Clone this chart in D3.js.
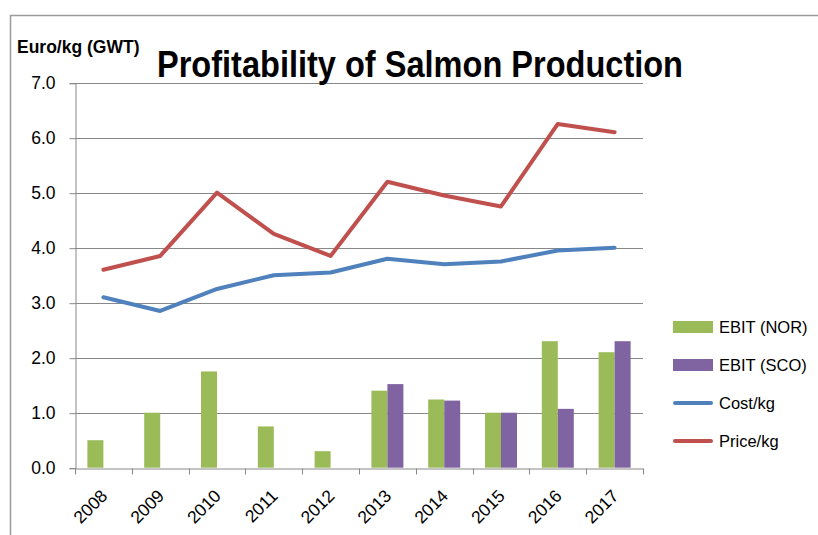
<!DOCTYPE html>
<html>
<head>
<meta charset="utf-8">
<script src="https://cdn.jsdelivr.net/npm/d3@7"></script>
<style>
  body { margin: 0; background: #fff; }
  text { font-family: "Liberation Sans", Arial, sans-serif; fill: #000; }
</style>
</head>
<body>
<svg id="chart" width="818" height="535"></svg>
<script>
// chart data
var years = ["2008", "2009", "2010", "2011", "2012", "2013", "2014", "2015", "2016", "2017"];
var ebitNor = [0.5, 1.0, 1.75, 0.75, 0.3, 1.4, 1.24, 1.0, 2.3, 2.1];
var ebitSco = [null, null, null, null, null, 1.52, 1.22, 1.0, 1.07, 2.3];
var cost = [3.1, 2.85, 3.25, 3.5, 3.55, 3.8, 3.7, 3.75, 3.95, 4.0];
var price = [3.6, 3.85, 5.0, 4.25, 3.85, 5.2, 4.95, 4.75, 6.25, 6.1];
var yTicks = [0, 1, 2, 3, 4, 5, 6, 7];
var seriesNames = ["EBIT (NOR)", "EBIT (SCO)", "Cost/kg", "Price/kg"];
var colors = ["#9bbb59", "#8064a2", "#4f81bd", "#c0504d"];

var svg = d3.select('#chart');
var plotLeft = 75, plotRight = 643, plotTop = 82.7, plotBottom = 467.7;

var x = d3.scaleBand().domain(years).range([plotLeft, plotRight]);
var inner = d3.scaleBand().domain(["nor", "sco"]).range([0, x.bandwidth()])
    .paddingInner(0).paddingOuter(0.775);
var y = d3.scaleLinear().domain([0, 7]).range([plotBottom, plotTop]);

// outer frame (top + left edge)
svg.append('path')
    .attr('d', 'M10.5,535 L10.5,15.5 L818,15.5')
    .attr('fill', 'none')
    .attr('stroke', '#9a9a9a')
    .attr('stroke-width', 1.5);

// gridlines
svg.append('g').selectAll('line')
    .data(yTicks.filter(function(d){ return d > 0; }))
    .join('line')
    .attr('x1', plotLeft).attr('x2', plotRight)
    .attr('y1', function(d){ return Math.round(y(d)) + 0.5; })
    .attr('y2', function(d){ return Math.round(y(d)) + 0.5; })
    .attr('stroke', '#888')
    .attr('stroke-width', 1);

// y axis
var yAxis = d3.axisLeft(y).tickValues(yTicks).tickFormat(d3.format('.1f')).tickSize(6).tickPadding(14);
var gy = svg.append('g').attr('transform', 'translate(' + (plotLeft + 0.5) + ',0.5)').call(yAxis);
gy.select('.domain').attr('stroke', '#888');
gy.selectAll('.tick line').attr('stroke', '#888');
gy.selectAll('.tick text').attr('font-size', 17.5).attr('font-family', 'Liberation Sans').attr('fill', '#000');

// bars
svg.append('g').selectAll('rect')
    .data(years.map(function(d, i){ return {year: d, v: ebitNor[i]}; }))
    .join('rect')
    .attr('x', function(d){ return x(d.year) + inner('nor'); })
    .attr('width', inner.bandwidth())
    .attr('y', function(d){ return y(d.v); })
    .attr('height', function(d){ return y(0) - y(d.v); })
    .attr('fill', colors[0]);

svg.append('g').selectAll('rect')
    .data(years.map(function(d, i){ return {year: d, v: ebitSco[i]}; }).filter(function(d){ return d.v != null; }))
    .join('rect')
    .attr('x', function(d){ return x(d.year) + inner('sco'); })
    .attr('width', inner.bandwidth())
    .attr('y', function(d){ return y(d.v); })
    .attr('height', function(d){ return y(0) - y(d.v); })
    .attr('fill', colors[1]);

// x axis
var xAxis = d3.axisBottom(x).tickSize(0).tickFormat('');
var gx = svg.append('g').attr('transform', 'translate(0,' + (Math.round(plotBottom) + 0.5) + ')').call(xAxis);
gx.select('.domain').attr('stroke', '#888');
gx.selectAll('.edge')
    .data(years.concat(['end']))
    .join('line')
    .attr('class', 'edge')
    .attr('x1', function(d){ return Math.round(d === 'end' ? plotRight : x(d)) + 0.5; })
    .attr('x2', function(d){ return Math.round(d === 'end' ? plotRight : x(d)) + 0.5; })
    .attr('y1', 0).attr('y2', 6)
    .attr('stroke', '#888');

svg.append('g').selectAll('text')
    .data(years)
    .join('text')
    .attr('transform', function(d){
        return 'translate(' + (x(d) + x.bandwidth() / 2 + 5) + ',497) rotate(-45)';
    })
    .attr('text-anchor', 'end')
    .attr('font-size', 17.5)
    .text(function(d){ return d; });

// lines
var line = d3.line()
    .x(function(d, i){ return x(years[i]) + x.bandwidth() / 2; })
    .y(function(d){ return y(d); });

svg.append('path').datum(cost)
    .attr('d', line).attr('fill', 'none')
    .attr('stroke', colors[2]).attr('stroke-width', 4)
    .attr('stroke-linejoin', 'round').attr('stroke-linecap', 'round');
svg.append('path').datum(price)
    .attr('d', line).attr('fill', 'none')
    .attr('stroke', colors[3]).attr('stroke-width', 4)
    .attr('stroke-linejoin', 'round').attr('stroke-linecap', 'round');

// legend
var legend = svg.append('g');
var rowY = d3.scalePoint().domain(seriesNames).range([327, 441]);
seriesNames.forEach(function(name, i){
    var cy = rowY(name);
    if (i < 2) {
        legend.append('rect')
            .attr('x', 673).attr('y', cy - 6)
            .attr('width', 40).attr('height', 12)
            .attr('fill', colors[i]);
    } else {
        legend.append('line')
            .attr('x1', 675).attr('x2', 711)
            .attr('y1', cy).attr('y2', cy)
            .attr('stroke', colors[i]).attr('stroke-width', 4)
            .attr('stroke-linecap', 'round');
    }
    legend.append('text')
        .attr('x', 719).attr('y', cy + 6)
        .attr('font-size', 16.5)
        .text(name);
});

// titles
svg.append('text')
    .attr('x', 17).attr('y', 53)
    .attr('font-size', 17.5)
    .attr('font-weight', 'bold')
    .text('Euro/kg (GWT)');

svg.append('text')
    .attr('x', 157).attr('y', 77)
    .attr('font-size', 36)
    .attr('font-weight', 'bold')
    .attr('textLength', 526)
    .attr('lengthAdjust', 'spacingAndGlyphs')
    .text('Profitability of Salmon Production');
</script>
</body>
</html>
